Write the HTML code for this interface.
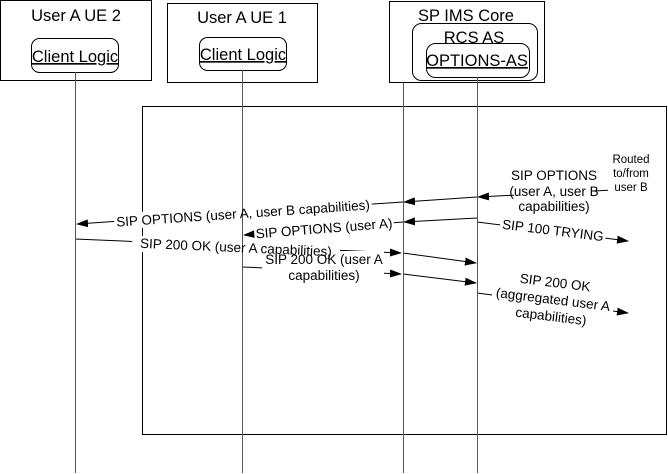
<!DOCTYPE html>
<html><head><meta charset="utf-8"><style>
html,body{margin:0;padding:0;background:#fff;}
svg{display:block;font-family:"Liberation Sans",Arial,sans-serif;}
</style></head><body>
<svg width="668" height="474" viewBox="0 0 668 474" xmlns="http://www.w3.org/2000/svg">
<defs>
<marker id="a" markerWidth="12" markerHeight="8" refX="11" refY="4" orient="auto" markerUnits="userSpaceOnUse">
<path d="M0,0 L12,4 L0,8 z" fill="#000"/></marker>
</defs>
<g fill="none" stroke="#000" stroke-width="1">
<rect x="0.5" y="0.5" width="151" height="80"/>
<rect x="167.5" y="3.5" width="150" height="79"/>
<rect x="389.5" y="1.5" width="155" height="81"/>
<rect x="412.5" y="23.5" width="125" height="57" rx="9"/>
<rect x="426.5" y="43.5" width="103" height="34" rx="9"/>
<rect x="31.5" y="38.5" width="87" height="34" rx="8"/>
<rect x="199.5" y="37.5" width="87" height="33" rx="8"/>
<rect x="142.5" y="106.5" width="524" height="328"/>
</g>
<g font-size="16.5" text-anchor="middle" fill="#000">
<text x="76" y="21">User A UE 2</text>
<text x="242" y="23">User A UE 1</text>
<text x="466" y="21">SP IMS Core</text>
<text x="474" y="43">RCS AS</text>
<text x="477" y="66" text-decoration="underline">OPTIONS-AS</text>
<text x="75" y="62" text-decoration="underline">Client Logic</text>
<text x="243" y="60" text-decoration="underline">Client Logic</text>
</g>
<g stroke="#000" stroke-width="1" fill="none">
<line x1="613" y1="190" x2="478" y2="197" marker-end="url(#a)"/>
<line x1="477" y1="197" x2="404" y2="202" marker-end="url(#a)"/>
<line x1="403" y1="202" x2="77" y2="224" marker-end="url(#a)"/>
<line x1="477" y1="218" x2="404" y2="222" marker-end="url(#a)"/>
<line x1="403" y1="222" x2="244" y2="235" marker-end="url(#a)"/>
<line x1="477" y1="222" x2="628" y2="241" marker-end="url(#a)"/>
<line x1="75" y1="239" x2="401" y2="253" marker-end="url(#a)"/>
<line x1="403" y1="253" x2="476" y2="263" marker-end="url(#a)"/>
<line x1="243" y1="267" x2="401" y2="274" marker-end="url(#a)"/>
<line x1="403" y1="274" x2="476" y2="283" marker-end="url(#a)"/>
<line x1="477" y1="293" x2="628" y2="313" marker-end="url(#a)"/>
</g>
<g fill="#fff" stroke="none">
<rect x="514" y="164" width="80" height="47"/>
<rect x="114" y="205" width="258" height="16" transform="rotate(-3.9 243 213)"/>
<rect x="254" y="220" width="140" height="16" transform="rotate(-4.5 324 228)"/>
<rect x="500" y="222" width="106" height="16" transform="rotate(7 553 230)"/>
<rect x="132" y="240" width="208" height="16" transform="rotate(2.5 236 247)"/>
<rect x="262" y="251" width="122" height="31"/>
<rect x="492" y="272" width="122" height="54" transform="rotate(7 553 300)"/>
<rect x="608" y="150" width="45" height="42"/>
</g>
<g stroke="#555" stroke-width="1">
<line x1="75.5" y1="72" x2="75.5" y2="473"/>
<line x1="242.5" y1="70" x2="242.5" y2="473"/>
<line x1="403.5" y1="83" x2="403.5" y2="473"/>
<line x1="477.5" y1="77" x2="477.5" y2="473"/>
</g>
<g font-size="13.5" text-anchor="middle" fill="#000">
<text x="554" y="180">SIP OPTIONS</text>
<text x="554" y="196">(user A, user B</text>
<text x="554" y="211">capabilities)</text>
<g font-size="11.5"><text x="631" y="163">Routed</text><text x="631" y="177">to/from</text><text x="631" y="191">user B</text></g>
<text x="243" y="218" transform="rotate(-3.9 243 213)">SIP OPTIONS (user A, user B capabilities)</text>
<text x="324" y="233" transform="rotate(-4.5 324 228)">SIP OPTIONS (user A)</text>
<text x="553" y="235" transform="rotate(7 553 230)">SIP 100 TRYING</text>
<text x="236" y="252" transform="rotate(2.5 236 247)">SIP 200 OK (user A capabilities)</text>
<text x="324" y="264">SIP 200 OK (user A</text>
<text x="324" y="280">capabilities)</text>
<g transform="rotate(7 553 300)">
<text x="553" y="287">SIP 200 OK</text>
<text x="553" y="304">(aggregated user A</text>
<text x="553" y="321">capabilities)</text>
</g>
</g>
</svg>
</body></html>
